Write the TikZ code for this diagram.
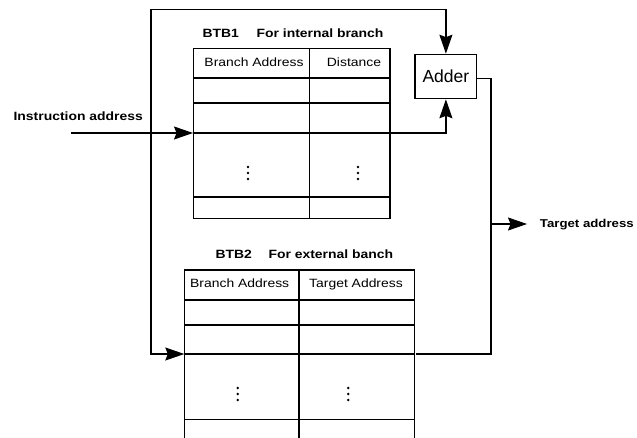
\documentclass[tikz,border=0pt]{standalone}
\usepackage{fontspec}
\setmainfont{Liberation Sans}[FakeStretch=1.16]
\newfontfamily\adderfont{Liberation Sans}
\usetikzlibrary{arrows.meta,calc}
\begin{document}
\begin{tikzpicture}[x=1pt,y=-1pt,
  line width=1.2pt,
  arr/.style={-{Stealth[length=19pt,width=13pt,inset=2.5pt]}},
  lbl/.style={font=\fontsize{12}{14}\selectfont, inner sep=0pt, anchor=base},
  blbl/.style={font=\fontsize{12}{14}\selectfont\bfseries, inner sep=0pt, anchor=base west},
  tbl/.style={draw, rectangle, inner sep=0pt},
  vdot/.style={circle, fill, inner sep=0pt, minimum size=2.8pt}
]
\useasboundingbox (0,0) rectangle (637,438);

% ---------- BTB1 ----------
\node[tbl, minimum width=196.3pt, minimum height=170pt, anchor=north west] (btb1) at (193,47.7) {};
\draw (193,78) -- (389.3,78);
\draw (193,103) -- (389.3,103);
\draw (193,133) -- (389.3,133);
\draw (193,197) -- (389.3,197);
\draw (309.3,47.7) -- (309.3,217.7);
\node[lbl] (h11) at (254,66.7) {Branch Address};
\node[lbl] (h12) at (354,66.7) {Distance};
\node[blbl] (t1a) at (202,37.3) {BTB1};
\node[blbl] (t1b) at (256,37.3) {For internal branch};
\foreach \x/\n in {248/a,358/b}{
  \node[vdot] (d1\n1) at (\x,167) {};
  \node[vdot] (d1\n2) at (\x,173) {};
  \node[vdot] (d1\n3) at (\x,179) {};
}

% ---------- BTB2 ----------
\draw (184.3,438) -- (184.3,270) -- (414.3,270) -- (414.3,438);
\node[inner sep=0pt, minimum width=230pt, minimum height=168pt, anchor=north west] (btb2) at (184.3,270) {};
\draw (184.3,300) -- (414.3,300);
\draw (184.3,325) -- (414.3,325);
\draw (184.3,354) -- (414.3,354);
\draw (184.3,419.3) -- (414.3,419.3);
\draw (299,270) -- (299,438);
\node[lbl] (h21) at (239.7,287.7) {Branch Address};
\node[lbl] (h22) at (356,287.7) {Target Address};
\node[blbl] (t2a) at (215,258.3) {BTB2};
\node[blbl] (t2b) at (268,258.3) {For external banch};
\foreach \x/\n in {237.7/a,348.3/b}{
  \node[vdot] (d2\n1) at (\x,388) {};
  \node[vdot] (d2\n2) at (\x,394) {};
  \node[vdot] (d2\n3) at (\x,400) {};
}

% ---------- Adder ----------
\node[draw, minimum width=61.7pt, minimum height=44.4pt, inner sep=0pt,
      font=\adderfont\fontsize{17.5}{20}\selectfont] (adder) at (445.9,76.5) {Adder};

% ---------- labels ----------
\node[blbl] (ia) at (13,120.5) {Instruction address};
\node[blbl, font=\fontsize{11.4}{13}\selectfont\bfseries] (ta) at (539.3,227.3) {Target address};

% ---------- coordinates ----------
\coordinate (iastart) at (70.7,133);
\coordinate (split) at (151,133);
\coordinate (topL) at (151,9.5);
\coordinate (botL) at (151,354);
\coordinate (b1in) at (btb1.west |- split);
\coordinate (b1out) at (btb1.east |- split);
\coordinate (b2in) at (btb2.west |- botL);
\coordinate (b2out) at (btb2.east |- botL);
\coordinate (bus) at (491,78.3);
\coordinate (busjoin) at (491,224);
\coordinate (taend) at (527,224);

% ---------- connectors ----------
\draw[arr] (iastart) -- (b1in);
\draw[arr] (split) -- (topL) -| (adder.north);
\draw[arr] (split) -- (botL) -- (b2in);
\draw[arr] (b1out) -| (adder.south);
\draw (adder.east |- bus) -- (bus) -- (bus |- b2out) -- (b2out);
\draw[arr] (busjoin) -- (taend);
\end{tikzpicture}
\end{document}
